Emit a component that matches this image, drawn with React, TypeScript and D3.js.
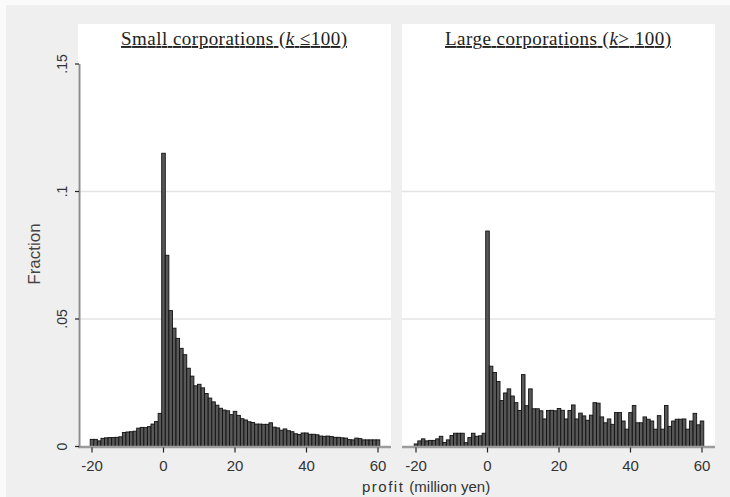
import React from "react";
import * as d3 from "d3";

// profit bins (million yen), one bar per integer from -20 to 60
const bins = d3.range(-20, 61);

// fraction of firms per bin, small corporations (k <= 100)
const smallFractions = [
  0.0028, 0.0028, 0.0022, 0.0032, 0.0034, 0.0035, 0.0035, 0.0036, 0.0038, 0.0055,
  0.0057, 0.0058, 0.006, 0.0072, 0.0075, 0.0074, 0.0078, 0.0088, 0.0098, 0.013,
  0.115, 0.075, 0.0533, 0.0464, 0.0424, 0.0385, 0.036, 0.0307, 0.0276, 0.0238,
  0.0244, 0.023, 0.0208, 0.019, 0.0175, 0.0162, 0.015, 0.0143, 0.014, 0.0125,
  0.0138, 0.0122, 0.0109, 0.0104, 0.0097, 0.0094, 0.0088, 0.0088, 0.0087, 0.0087,
  0.0093, 0.0076, 0.0073, 0.0064, 0.0069, 0.0062, 0.0058, 0.005, 0.0047, 0.0053,
  0.0053, 0.0048, 0.0048, 0.0046, 0.0041, 0.004, 0.0041, 0.0039, 0.0036, 0.0036,
  0.0034, 0.0033, 0.0027, 0.0026, 0.0033, 0.0031, 0.0026, 0.0026, 0.0026, 0.0026,
  0.0026,
];

// fraction of firms per bin, large corporations (k > 100)
const largeFractions = [
  0.001, 0.0022, 0.003, 0.0022, 0.0024, 0.0024, 0.003, 0.004, 0.0016, 0.0026,
  0.0043, 0.0052, 0.0052, 0.0052, 0.0015, 0.0035, 0.0052, 0.004, 0.0042, 0.0052,
  0.0845, 0.0315, 0.029, 0.0255, 0.018, 0.021, 0.0226, 0.0198, 0.0172, 0.0141,
  0.0282, 0.016, 0.0226, 0.0148, 0.0148, 0.014, 0.0108, 0.0141, 0.0142, 0.014,
  0.0149, 0.0142, 0.0108, 0.0141, 0.0163, 0.0108, 0.0131, 0.012, 0.0103, 0.0123,
  0.0172, 0.017, 0.0116, 0.0093, 0.0108, 0.0087, 0.0133, 0.0133, 0.01, 0.0068,
  0.0133, 0.0161, 0.0093, 0.0093, 0.0116, 0.0107, 0.01, 0.0068, 0.0121, 0.0068,
  0.0161, 0.0079, 0.01, 0.0107, 0.0107, 0.0108, 0.0068, 0.01, 0.013, 0.0085,
  0.01,
];

const xTicks = [-20, 0, 20, 40, 60];
const yTicks = [0, 0.05, 0.1, 0.15];
const yTickLabels = ["0", ".05", ".1", ".15"];
const gridValues = [0.05, 0.1];

const W = 730;
const H = 497;
const sans = "'Liberation Sans', Arial, sans-serif";
const serif = "'Liberation Serif', 'Times New Roman', serif";

const y = d3.scaleLinear().domain([0, 0.15]).range([446.5, 64]);

interface PanelProps {
  left: number;
  right: number;
  x0: number; // pixel of -20
  values: number[];
  title: React.ReactNode;
  titleX: number;
}

function Panel({ left, right, x0, values, title, titleX }: PanelProps) {
  const x = d3.scaleLinear().domain([-20, 60]).range([x0, x0 + 286]);
  const base = y(0);
  return (
    <g>
      <rect x={left} y={24} width={right - left} height={base - 24 + 0.5} fill="#fff" />
      {gridValues.map((g) => (
        <line key={g} x1={left} x2={right} y1={y(g)} y2={y(g)} stroke="#e4e4e4" strokeWidth={1.5} />
      ))}
      <text
        x={titleX}
        y={45}
        textAnchor="middle"
        fontFamily={serif}
        fontSize={19}
        fill="#222"
        textDecoration="underline"
        textLength={226}
      >
        {title}
      </text>
      {bins.map((b, i) => (
        <rect
          key={b}
          x={x(b - 0.5)}
          y={y(values[i])}
          width={x(b + 0.5) - x(b - 0.5)}
          height={base - y(values[i])}
          fill="#585858"
          stroke="#111"
          strokeWidth={0.9}
        />
      ))}
      <line x1={left} x2={right} y1={base + 0.5} y2={base + 0.5} stroke="#9c9c9c" strokeWidth={2.5} />
      {xTicks.map((t) => (
        <g key={t}>
          <line x1={x(t)} x2={x(t)} y1={base + 1} y2={base + 6} stroke="#222" strokeWidth={1.2} />
          <text x={x(t)} y={471} textAnchor="middle" fontFamily={sans} fontSize={15} fill="#333">
            {t}
          </text>
        </g>
      ))}
    </g>
  );
}

export default function App() {
  return (
    <svg
      width={W}
      height={H}
      style={{ position: "absolute", left: 0, top: 0, display: "block" }}
    >
      <rect x={0} y={0} width={W} height={H} fill="#fafafa" />
      <rect x={6} y={5} width={W - 6} height={H - 5} fill="#efefef" />

      <Panel
        left={78}
        right={391}
        x0={92}
        values={smallFractions}
        titleX={234}
        title={
          <>
            <tspan>Small corporations (</tspan>
            <tspan fontStyle="italic">k</tspan>
            <tspan> ≤100)</tspan>
          </>
        }
      />
      <Panel
        left={402}
        right={715}
        x0={416}
        values={largeFractions}
        titleX={558}
        title={
          <>
            <tspan>Large corporations (</tspan>
            <tspan fontStyle="italic">k</tspan>
            <tspan>&gt; 100)</tspan>
          </>
        }
      />

      {/* y axis on the left panel */}
      <line x1={79.5} x2={79.5} y1={y(0.15)} y2={y(0) + 1} stroke="#8c8c8c" strokeWidth={2} />
      {yTicks.map((t, i) => (
        <g key={t}>
          <line x1={75} x2={79} y1={y(t)} y2={y(t)} stroke="#222" strokeWidth={1.2} />
          <text
            transform={`translate(67,${y(t)}) rotate(-90)`}
            textAnchor="middle"
            fontFamily={sans}
            fontSize={14}
            fill="#333"
          >
            {yTickLabels[i]}
          </text>
        </g>
      ))}
      <text
        transform={`translate(40,254) rotate(-90)`}
        textAnchor="middle"
        fontFamily={sans}
        fontSize={17}
        fill="#444"
      >
        Fraction
      </text>

      <text x={362} y={492} fontFamily={sans} fill="#333">
        <tspan fontSize={15} letterSpacing={1.5}>profit</tspan>
        <tspan fontSize={15} dx={5}>(million yen)</tspan>
      </text>
    </svg>
  );
}
